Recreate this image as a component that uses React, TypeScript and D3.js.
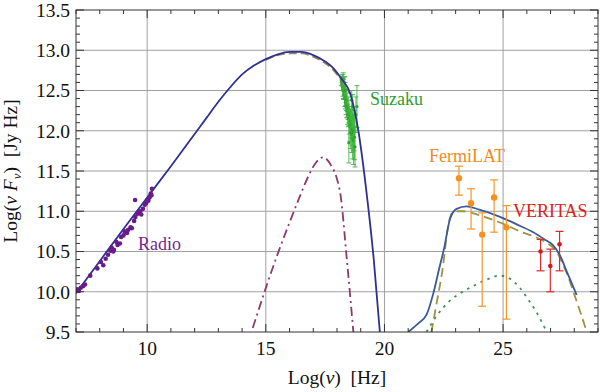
import React from "react";
import * as d3 from "d3";

const W = 600, H = 392;
const M = { left: 76, right: 2, top: 10, bottom: 60 };

const xTicksMajor = [10, 15, 20, 25];
const yTicksMajor = [9.5, 10.0, 10.5, 11.0, 11.5, 12.0, 12.5, 13.0, 13.5];
const xGrid = [10, 15, 20, 25];
const yGrid = [10.0, 10.5, 11.0, 11.5, 12.0, 12.5, 13.0];

// synchrotron total (solid navy)
const syncCurve: [number, number][] = [
  [7, 9.98], [8, 10.38], [9, 10.78], [10, 11.17], [11, 11.56], [12, 11.96], [12.5, 12.16],
  [13, 12.36], [13.5, 12.54], [14, 12.7], [14.5, 12.81], [15, 12.89], [15.5, 12.95],
  [16, 12.98], [16.5, 12.98], [17, 12.94], [17.5, 12.86], [17.8, 12.79], [18.2, 12.64],
  [18.55, 12.47], [18.9, 12.0], [19.25, 11.22], [19.55, 10.4], [19.82, 9.45],
];
// synchrotron component (dashed, beneath)
const syncComp: [number, number][] = [
  [15, 12.88], [15.5, 12.94], [16, 12.96], [16.5, 12.96], [17, 12.92], [17.5, 12.84],
  [17.8, 12.77], [18.2, 12.62], [18.55, 12.46],
];
// second synchrotron (dash-dot purple)
const sync2Curve: [number, number][] = [
  [14.45, 9.55], [14.97, 10.02], [15.5, 10.47], [16.0, 10.86], [16.4, 11.16], [16.8, 11.44],
  [17.1, 11.6], [17.42, 11.67], [17.75, 11.57], [18.0, 11.4], [18.15, 11.2], [18.4, 10.45],
  [18.69, 9.5],
];
// inverse Compton total (solid blue)
const icCurve: [number, number][] = [
  [21.0, 9.5], [21.4, 9.6], [21.78, 9.72], [22.06, 9.98], [22.3, 10.28], [22.5, 10.52],
  [22.76, 10.9], [23.04, 11.03], [23.46, 11.06], [24.0, 11.02], [24.87, 10.93],
  [25.7, 10.82], [26.27, 10.74], [26.8, 10.64], [27.1, 10.58], [27.4, 10.45],
  [27.67, 10.26], [27.9, 10.1], [28.1, 9.96],
];
// inverse Compton component (dashed olive)
const icComp: [number, number][] = [
  [21.98, 9.5], [22.2, 9.86], [22.47, 10.32], [22.65, 10.75], [22.83, 10.97], [23.05, 11.0],
  [23.3, 11.0], [24.0, 10.95], [24.87, 10.86], [25.71, 10.75], [26.76, 10.62],
  [27.2, 10.52], [27.67, 10.24], [28.1, 9.88], [28.45, 9.57], [28.52, 9.5],
];
// second IC component (dotted green)
const ic2Curve: [number, number][] = [
  [21.77, 9.5], [22.2, 9.7], [22.76, 9.89], [23.3, 10.0], [23.73, 10.07], [24.3, 10.15],
  [24.87, 10.2], [25.3, 10.16], [25.7, 10.05], [26.0, 9.93], [26.4, 9.75], [26.84, 9.5],
];

const radioX = [7.05, 7.12, 7.2, 7.3, 7.38, 7.6, 7.9, 8.05, 8.25, 8.35, 8.5, 8.6, 8.57, 8.7,
  8.75, 8.85, 8.9, 9.0, 9.05, 9.15, 9.2, 9.3, 9.35, 9.45, 9.49, 9.5, 9.6, 9.7, 9.75, 9.82,
  9.9, 9.95, 10.0, 10.05, 10.1, 10.15, 10.18, 10.2, 8.15, 8.45];
const radioY = [10.03, 10.01, 10.05, 10.07, 10.09, 10.2, 10.29, 10.37, 10.41, 10.46, 10.55,
  10.52, 10.5, 10.62, 10.58, 10.6, 10.68, 10.7, 10.75, 10.73, 10.77, 10.8, 10.79, 10.88, 11.14,
  10.93, 10.97, 11.0, 10.96, 11.03, 11.08, 11.1, 11.14, 11.13, 11.17, 11.22, 11.2, 11.28, 10.33,
  10.51];

const suzakuX = [18.18, 18.2, 18.22, 18.24, 18.25, 18.27, 18.28, 18.3, 18.32, 18.33, 18.35,
  18.36, 18.38, 18.4, 18.41, 18.43, 18.45, 18.47, 18.48, 18.5, 18.52, 18.54, 18.55, 18.57,
  18.58, 18.6, 18.62, 18.64, 18.66, 18.68, 18.7, 18.72, 18.74, 18.62, 18.66, 18.5, 18.76,
  18.8, 18.84, 18.26, 18.3, 18.34];
const suzakuY = [12.62, 12.58, 12.55, 12.6, 12.5, 12.52, 12.45, 12.48, 12.4, 12.55, 12.35,
  12.42, 12.3, 12.38, 12.25, 12.32, 12.2, 12.28, 12.15, 12.22, 12.1, 12.18, 12.05, 12.12,
  11.98, 12.08, 11.95, 12.02, 11.9, 11.98, 11.88, 12.0, 11.92, 12.38, 12.3, 11.85, 11.8,
  12.2, 12.3, 12.64, 12.6, 12.5];
const suzakuErr = [0.06, 0.08, 0.05, 0.1, 0.07, 0.12, 0.06, 0.09, 0.1, 0.12, 0.08, 0.11, 0.1,
  0.13, 0.09, 0.15, 0.12, 0.14, 0.1, 0.16, 0.14, 0.12, 0.18, 0.15, 0.2, 0.17, 0.22, 0.2, 0.25,
  0.22, 0.3, 0.25, 0.28, 0.12, 0.15, 0.25, 0.25, 0.22, 0.26, 0.08, 0.07, 0.1];

const fermiX = [23.14, 23.65, 24.12, 24.62, 25.14];
const fermiY = [11.41, 11.1, 10.71, 11.17, 10.8];
const fermiHi = [11.56, 11.28, 10.98, 11.39, 11.07];
const fermiLo = [11.2, 10.78, 9.82, 10.74, 9.66];

const veritasX = [26.58, 26.99, 27.38];
const veritasY = [10.5, 10.32, 10.59];
const veritasHi = [10.65, 10.53, 10.75];
const veritasLo = [10.26, 10.0, 10.26];

const FONT = '"Liberation Serif", "Times New Roman", Times, "DejaVu Serif", serif';

export default function App() {
  const x = d3.scaleLinear().domain([7, 29]).range([M.left, W - M.right]);
  const y = d3.scaleLinear().domain([9.5, 13.5]).range([H - M.bottom, M.top]);
  const line = d3.line<[number, number]>().x(d => x(d[0])).y(d => y(d[1])).curve(d3.curveMonotoneX);
  const x0 = x.range()[0], x1 = x.range()[1], y0 = y.range()[0], y1 = y.range()[1];

  const xMinor = d3.range(7, 30, 1);
  const yMinor = d3.range(95, 136, 1).map(v => v / 10);

  return (
    <svg width={W} height={H} style={{ position: "absolute", left: 0, top: 0, background: "#fff", fontFamily: FONT }}>
      <defs>
        <clipPath id="plot">
          <rect x={x0} y={y1} width={x1 - x0} height={y0 - y1} />
        </clipPath>
      </defs>
      {/* grid */}
      {xGrid.map(v => (
        <line key={"gx" + v} x1={x(v)} x2={x(v)} y1={y1} y2={y0} stroke="#a0a0a0" strokeWidth={1} />
      ))}
      {yGrid.map(v => (
        <line key={"gy" + v} x1={x0} x2={x1} y1={y(v)} y2={y(v)} stroke="#a0a0a0" strokeWidth={1} />
      ))}

      <g clipPath="url(#plot)">
        {/* Suzaku */}
        {suzakuX.map((xv, i) => (
          <g key={"s" + i} stroke="#3cb43c" strokeWidth={0.9}>
            <line x1={x(xv)} x2={x(xv)} y1={y(suzakuY[i] + suzakuErr[i])} y2={y(suzakuY[i] - suzakuErr[i])} />
            <line x1={x(xv) - 2.5} x2={x(xv) + 2.5} y1={y(suzakuY[i] + suzakuErr[i])} y2={y(suzakuY[i] + suzakuErr[i])} />
            <line x1={x(xv) - 2.5} x2={x(xv) + 2.5} y1={y(suzakuY[i] - suzakuErr[i])} y2={y(suzakuY[i] - suzakuErr[i])} />
            <circle cx={x(xv)} cy={y(suzakuY[i])} r={1.6} fill="#2ca02c" stroke="none" />
          </g>
        ))}

        <path d={line(sync2Curve) || ""} fill="none" stroke="#8a3a6e" strokeWidth={1.8} strokeDasharray="9,4,2,4" />
        <path d={line(syncComp) || ""} fill="none" stroke="#8c8a5a" strokeWidth={1.8} strokeDasharray="8,4" />
        <path d={line(syncCurve) || ""} fill="none" stroke="#2e3192" strokeWidth={1.8} />
        <path d={line(ic2Curve) || ""} fill="none" stroke="#3f8f5a" strokeWidth={1.8} strokeDasharray="2.5,5" />
        <path d={line(icComp) || ""} fill="none" stroke="#9c9444" strokeWidth={1.8} strokeDasharray="9,5" />
        <path d={line(icCurve) || ""} fill="none" stroke="#3a5a9a" strokeWidth={1.8} />

        {/* Radio */}
        {radioX.map((xv, i) => (
          <circle key={"r" + i} cx={x(xv)} cy={y(radioY[i])} r={2.3} fill="#6a1b8a" />
        ))}

        {/* Fermi */}
        {fermiX.map((xv, i) => (
          <g key={"f" + i} stroke="#f5962a" strokeWidth={1.2}>
            <line x1={x(xv)} x2={x(xv)} y1={y(fermiHi[i])} y2={y(fermiLo[i])} />
            <line x1={x(xv) - 4} x2={x(xv) + 4} y1={y(fermiHi[i])} y2={y(fermiHi[i])} />
            <line x1={x(xv) - 4} x2={x(xv) + 4} y1={y(fermiLo[i])} y2={y(fermiLo[i])} />
            <circle cx={x(xv)} cy={y(fermiY[i])} r={3.2} fill="#f7901e" stroke="none" />
          </g>
        ))}

        {/* VERITAS */}
        {veritasX.map((xv, i) => (
          <g key={"v" + i} stroke="#dd2a2a" strokeWidth={1.2}>
            <line x1={x(xv)} x2={x(xv)} y1={y(veritasHi[i])} y2={y(veritasLo[i])} />
            <line x1={x(xv) - 4} x2={x(xv) + 4} y1={y(veritasHi[i])} y2={y(veritasHi[i])} />
            <line x1={x(xv) - 4} x2={x(xv) + 4} y1={y(veritasLo[i])} y2={y(veritasLo[i])} />
            <circle cx={x(xv)} cy={y(veritasY[i])} r={2.3} fill="#d81818" stroke="none" />
          </g>
        ))}
      </g>

      {/* frame */}
      <rect x={x0} y={y1} width={x1 - x0} height={y0 - y1} fill="none" stroke="#333" strokeWidth={1} />

      {/* ticks */}
      {xMinor.map(v => {
        const major = xTicksMajor.includes(v);
        const len = major ? 8 : 4;
        return (
          <g key={"xt" + v} stroke="#333" strokeWidth={1}>
            <line x1={x(v)} x2={x(v)} y1={y0} y2={y0 - len} />
            <line x1={x(v)} x2={x(v)} y1={y1} y2={y1 + len} />
          </g>
        );
      })}
      {yMinor.map(v => {
        const major = Math.abs(v * 2 - Math.round(v * 2)) < 1e-6;
        const len = major ? 8 : 4;
        return (
          <g key={"yt" + v} stroke="#333" strokeWidth={1}>
            <line x1={x0} x2={x0 + len} y1={y(v)} y2={y(v)} />
            <line x1={x1} x2={x1 - len} y1={y(v)} y2={y(v)} />
          </g>
        );
      })}

      {xTicksMajor.map(v => (
        <text key={"xl" + v} x={x(v)} y={y0 + 23} textAnchor="middle" fontSize={19.5} fill="#111">{v}</text>
      ))}
      {yTicksMajor.map(v => (
        <text key={"yl" + v} x={x0 - 6} y={y(v)} dy="0.35em" textAnchor="end" fontSize={19.5} fill="#111">
          {v.toFixed(1)}
        </text>
      ))}

      <text x={(x0 + x1) / 2} y={384} textAnchor="middle" fontSize={19.5} fill="#111" style={{ whiteSpace: "pre" }}>
        {"Log("}<tspan fontStyle="italic">ν</tspan>{")\u00a0\u00a0[Hz]"}
      </text>
      <text transform={`translate(17, ${(y0 + y1) / 2}) rotate(-90)`} textAnchor="middle" fontSize={19.5} fill="#111">
        {"Log("}<tspan fontStyle="italic">{"ν\u00a0F"}</tspan><tspan fontStyle="italic" fontSize={13} dy={4}>ν</tspan><tspan dy={-4}>{")\u00a0\u00a0[Jy Hz]"}</tspan>
      </text>

      <text x={370} y={105} fontSize={18} fill="#2ca02c">Suzaku</text>
      <text x={429} y={162} fontSize={18} fill="#f28a1e">FermiLAT</text>
      <text x={513} y={217} fontSize={18} fill="#e0201a">VERITAS</text>
      <text x={138} y={250} fontSize={18} fill="#7a1f8f">Radio</text>
    </svg>
  );
}
